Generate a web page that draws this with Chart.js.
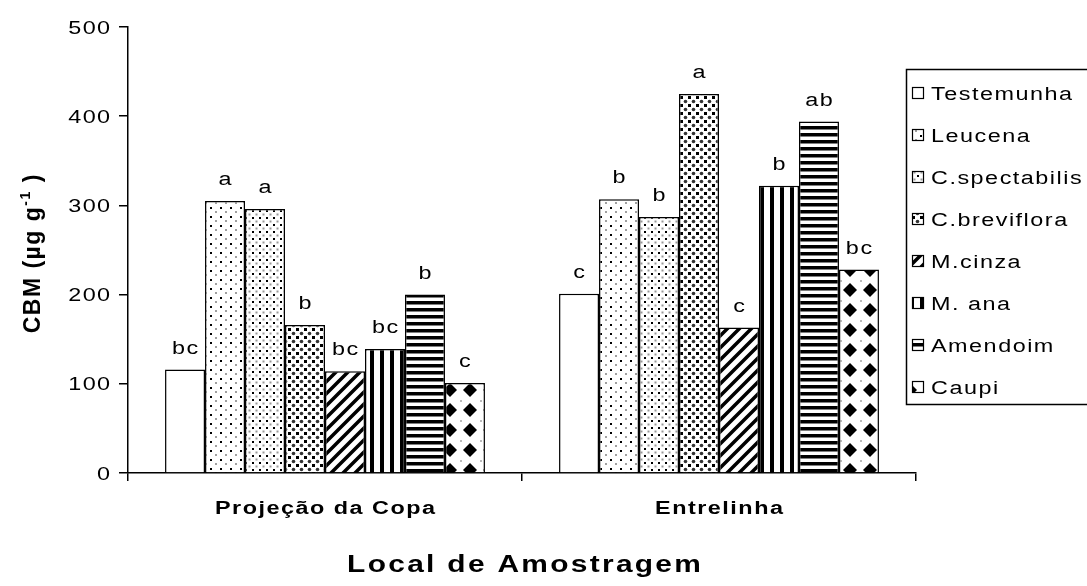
<!DOCTYPE html>
<html><head><meta charset="utf-8">
<script src="https://cdn.jsdelivr.net/npm/chart.js@4"></script>
<style>html,body{margin:0;padding:0;background:#fff;} #wrap{width:1087px;height:586px;}</style>
</head><body><div id="wrap"><canvas id="c" width="1087" height="586"></canvas></div>
<script>
// ---- DATA ----
const categories = ['Projeção da Copa', 'Entrelinha'];
const seriesNames = ['Testemunha','Leucena','C.spectabilis','C.breviflora','M.cinza','M. ana','Amendoim','Caupi'];
const testemunha   = [116, 201];
const leucena      = [305, 307];
const cSpectabilis = [296, 287];
const cBreviflora  = [166, 425];
const mCinza       = [114, 163];
const mAna         = [139, 322];
const amendoim     = [200, 394];
const caupi        = [101, 228];
const lettersTestemunha   = ['bc','c'];
const lettersLeucena      = ['a','b'];
const lettersCSpectabilis = ['a','b'];
const lettersCBreviflora  = ['b','a'];
const lettersMCinza       = ['bc','c'];
const lettersMAna         = ['bc','b'];
const lettersAmendoim     = ['b','ab'];
const lettersCaupi        = ['c','bc'];
const yTicks = [0, 100, 200, 300, 400, 500];
const yTitle = ['CBM (µg g', '-1', ' )'];
const xTitle = 'Local de Amostragem';

const seriesValues = [testemunha, leucena, cSpectabilis, cBreviflora, mCinza, mAna, amendoim, caupi];
const seriesLetters = [lettersTestemunha, lettersLeucena, lettersCSpectabilis, lettersCBreviflora, lettersMCinza, lettersMAna, lettersAmendoim, lettersCaupi];

// ---- PATTERNS ----
const cv = document.getElementById('c');
const ctx = cv.getContext('2d');
function pat(w, h, draw) {
  const c = document.createElement('canvas'); c.width = w; c.height = h;
  const g = c.getContext('2d'); g.fillStyle = '#fff'; g.fillRect(0,0,w,h);
  draw(g, w, h); return ctx.createPattern(c, 'repeat');
}
const patterns = [
  '#ffffff',
  pat(10, 9, g => { g.fillStyle='#000'; g.fillRect(0,0,2,2); g.fillStyle='#a0a0a0'; g.fillRect(5,4,2,2); }),
  pat(7, 7, g => { g.fillStyle='#000'; g.fillRect(0,0,2,2); g.fillStyle='#999'; g.fillRect(3.5,3.5,2,2); }),
  pat(8, 8, g => { g.fillStyle='#000'; g.fillRect(0,0,3,3); g.fillStyle='#333'; g.beginPath(); g.arc(5.5,5.5,1.8,0,Math.PI*2); g.fill(); }),
  pat(12, 12, g => { g.strokeStyle='#000'; g.lineWidth=3.5; g.beginPath();
      g.moveTo(-1,13); g.lineTo(13,-1); g.moveTo(-7,7); g.lineTo(7,-7); g.moveTo(5,19); g.lineTo(19,5); g.stroke(); }),
  pat(10, 1, g => { g.fillStyle='#000'; g.fillRect(0,0,4,1); }),
  pat(1, 7, g => { g.fillStyle='#000'; g.fillRect(0,0,1,3.5); }),
  pat(20, 20, g => { g.fillStyle='#000'; g.beginPath(); g.moveTo(10,3); g.lineTo(17,10); g.lineTo(10,17); g.lineTo(3,10); g.closePath(); g.fill();
      g.fillStyle='#bbb'; g.fillRect(0,0,2,2); })
];

// ---- TEXT HELPER (widened, lightly letter-spaced text as in the reference) ----
const SX = 1.3;
function drawText(c, text, x, y, font, align, spacing) {
  const sx = SX;
  c.save();
  c.font = font; c.textBaseline = 'alphabetic'; c.textAlign = 'left';
  c.letterSpacing = (spacing / sx) + 'px';
  const w = c.measureText(text).width * sx - spacing;
  let x0 = x;
  if (align === 'center') x0 = x - w/2; else if (align === 'right') x0 = x - w;
  c.translate(x0, y); c.scale(sx, 1);
  c.fillStyle = '#000'; c.fillText(text, 0, 0);
  c.restore();
}
const FONT = '"Liberation Sans", Arial, sans-serif';

const textPlugin = {
  id: 'texts',
  afterDatasetsDraw(chart) {
    const c = chart.ctx;
    // bar letters
    chart.data.datasets.forEach((ds, i) => {
      const meta = chart.getDatasetMeta(i);
      meta.data.forEach((el, j) => {
        drawText(c, seriesLetters[i][j], el.x, el.y - 16, '18px ' + FONT, 'center', 1.5);
      });
    });
    // y tick labels
    const ys = chart.scales.y;
    yTicks.forEach(v => drawText(c, String(v), 110, ys.getPixelForValue(v) + 6.5, '18px ' + FONT, 'right', 1.3));
    // x category labels
    const xs = chart.scales.x;
    categories.forEach((lab, i) => drawText(c, lab, xs.getPixelForValue(i), 514, 'bold 18px ' + FONT, 'center', 1.5));
    // x title
    drawText(c, xTitle, (chart.chartArea.left + chart.chartArea.right)/2 + 2, 572, 'bold 23px ' + FONT, 'center', 2.3);
    // y title rotated with superscript
    c.save();
    c.translate(40, (chart.chartArea.top + chart.chartArea.bottom)/2 + 4);
    c.rotate(-Math.PI/2);
    const fonts = ['bold 23px ' + FONT, 'bold 14px ' + FONT, 'bold 23px ' + FONT];
    const dys = [0, -10, 0];
    const sp = 1.5;
    let widths = yTitle.map((t, k) => { c.font = fonts[k]; c.letterSpacing = sp + 'px'; return c.measureText(t).width; });
    let total = widths.reduce((a,b)=>a+b,0) - sp;
    let x = -total/2;
    c.fillStyle = '#000'; c.textBaseline = 'alphabetic'; c.textAlign = 'left';
    yTitle.forEach((t, k) => { c.font = fonts[k]; c.letterSpacing = sp + 'px'; c.fillText(t, x, dys[k]); x += widths[k]; });
    c.restore();
    // legend
    c.save();
    c.strokeStyle = '#000'; c.lineWidth = 1.5;
    c.strokeRect(906.5, 69.5, 200, 335);
    seriesNames.forEach((name, i) => {
      const cy = 93 + 42 * i;
      c.fillStyle = patterns[i];
      c.fillRect(912, cy - 6, 12, 12);
      c.strokeStyle = '#000'; c.lineWidth = 1.2;
      c.strokeRect(912.5, cy - 5.5, 11, 11);
      drawText(c, name, 931, cy + 6.5, '18px ' + FONT, 'left', 1.5);
    });
    c.restore();
  }
};

new Chart(ctx, {
  type: 'bar',
  data: {
    labels: categories,
    datasets: seriesNames.map((n, i) => ({
      label: n, data: seriesValues[i], backgroundColor: patterns[i],
      borderColor: '#000', borderWidth: 1.5, borderSkipped: 'bottom',
      categoryPercentage: 0.812, barPercentage: 1
    }))
  },
  options: {
    responsive: false, animation: false, devicePixelRatio: 1,
    layout: { padding: { left: 0, top: 27, right: 171, bottom: 0 } },
    plugins: { legend: { display: false }, tooltip: { enabled: false } },
    scales: {
      x: {
        offset: true,
        grid: { display: true, offset: true, drawOnChartArea: false, drawTicks: true, tickLength: 8, color: '#000', lineWidth: 1.5 },
        border: { display: true, color: '#000', width: 1.5 },
        ticks: { display: false },
        afterFit: s => { s.height = 113; }
      },
      y: {
        min: 0, max: 500,
        ticks: { display: false, stepSize: 100 },
        grid: { display: true, drawOnChartArea: false, drawTicks: true, tickLength: 9, color: '#000', lineWidth: 1.5 },
        border: { display: true, color: '#000', width: 1.5 },
        afterFit: s => { s.width = 128; }
      }
    }
  },
  plugins: [textPlugin]
});
</script>
</body></html>
